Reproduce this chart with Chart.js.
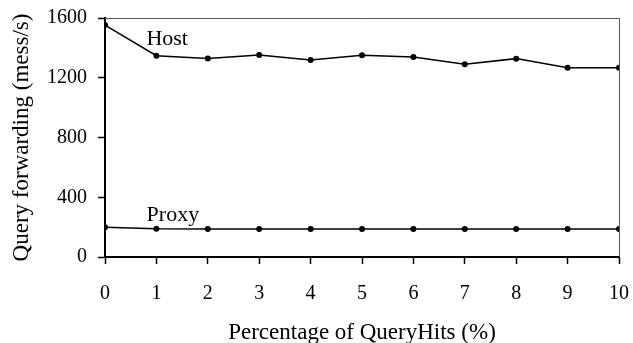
<!DOCTYPE html>
<html>
<head>
<meta charset="utf-8">
<script src="https://cdn.jsdelivr.net/npm/chart.js@4.4.1/dist/chart.umd.min.js"></script>
<style>
  html, body { margin: 0; padding: 0; background: #fff; }
  #wrap { width: 633px; height: 343px; }
</style>
</head>
<body>
<div id="wrap"><canvas id="qfChart"></canvas></div>
<script>
// percentage of QueryHits (%)
const hitPercent = [0, 1, 2, 3, 4, 5, 6, 7, 8, 9, 10];
// query forwarding rate (mess/s)
const hostRate  = [1553, 1348, 1329, 1352, 1319, 1350, 1339, 1290, 1328, 1267, 1267];
const proxyRate = [200, 189, 188, 188, 188, 188, 188, 188, 188, 188, 188];
const yTicks = [0, 400, 800, 1200, 1600];
// inline series labels, in data coordinates
const seriesLabels = [
    { text: 'Host',  x: 1.21, y: 1455 },
    { text: 'Proxy', x: 1.32, y: 280 }
];

const serif = "'Liberation Serif', 'Times New Roman', serif";

var frameAndLabels = {
    id: 'frameAndLabels',
    afterDatasetsDraw: (chart) => {
        const ctx = chart.ctx;
        const a = chart.chartArea;
        ctx.save();
        ctx.strokeStyle = '#555';
        ctx.lineWidth = 1;
        ctx.beginPath();
        ctx.moveTo(a.left, a.top + 0.5);
        ctx.lineTo(a.right + 0.5, a.top + 0.5);
        ctx.lineTo(a.right + 0.5, a.bottom);
        ctx.stroke();

        ctx.fillStyle = '#000';
        ctx.font = '22px ' + serif;
        ctx.textAlign = 'center';
        ctx.textBaseline = 'middle';
        seriesLabels.forEach(l => {
            ctx.fillText(l.text, chart.scales.x.getPixelForValue(l.x), chart.scales.y.getPixelForValue(l.y));
        });
        ctx.restore();
    }
};

const lineStyle = {
    borderColor: '#000',
    backgroundColor: '#000',
    borderWidth: 1.5,
    pointRadius: 3,
    pointBackgroundColor: '#000',
    pointBorderWidth: 0,
    tension: 0
};

var qfChart = new Chart(document.getElementById('qfChart').getContext('2d'), {
    type: 'line',
    plugins: [frameAndLabels],
    data: {
        datasets: [
            { label: 'Host',  data: hitPercent.map((x, i) => ({ x: x, y: hostRate[i] })),  ...lineStyle },
            { label: 'Proxy', data: hitPercent.map((x, i) => ({ x: x, y: proxyRate[i] })), ...lineStyle }
        ]
    },
    options: {
        responsive: true,
        maintainAspectRatio: false,
        animation: false,
        layout: { padding: { top: 18, right: 14, bottom: 0, left: 0 } },
        plugins: {
            legend: { display: false },
            tooltip: { enabled: false }
        },
        scales: {
            x: {
                type: 'linear',
                min: 0,
                max: 10,
                afterFit: (scale) => {
                    scale.height = 86;
                    scale.paddingLeft = 0;
                    scale.paddingRight = 0;
                },
                ticks: {
                    stepSize: 1,
                    color: '#000',
                    padding: 18,
                    maxRotation: 0,
                    callback: (v) => String(v),
                    font: { family: serif, size: 20 }
                },
                grid: { drawOnChartArea: false, drawTicks: true, tickLength: 7, tickColor: '#000', tickWidth: 1.5 },
                border: { display: true, color: '#000', width: 2 },
                title: {
                    display: true,
                    text: 'Percentage of QueryHits (%)',
                    color: '#000',
                    font: { family: serif, size: 23, lineHeight: 1 },
                    padding: { top: 0, bottom: -1 }
                }
            },
            y: {
                min: 0,
                max: 1600,
                afterFit: (scale) => {
                    scale.width = 105;
                    scale.paddingTop = 0;
                    scale.paddingBottom = 0;
                },
                afterBuildTicks: (scale) => { scale.ticks = yTicks.map(v => ({ value: v })); },
                ticks: {
                    color: '#000',
                    padding: 11,
                    callback: (v) => String(v),
                    font: { family: serif, size: 20 }
                },
                grid: { drawOnChartArea: false, drawTicks: true, tickLength: 7, tickColor: '#000', tickWidth: 1.5 },
                border: { display: true, color: '#000', width: 2 },
                title: {
                    display: true,
                    text: 'Query forwarding (mess/s)',
                    color: '#000',
                    font: { family: serif, size: 23, lineHeight: 1 },
                    padding: { top: 10, bottom: 0 }
                }
            }
        }
    }
});
</script>
</body>
</html>
